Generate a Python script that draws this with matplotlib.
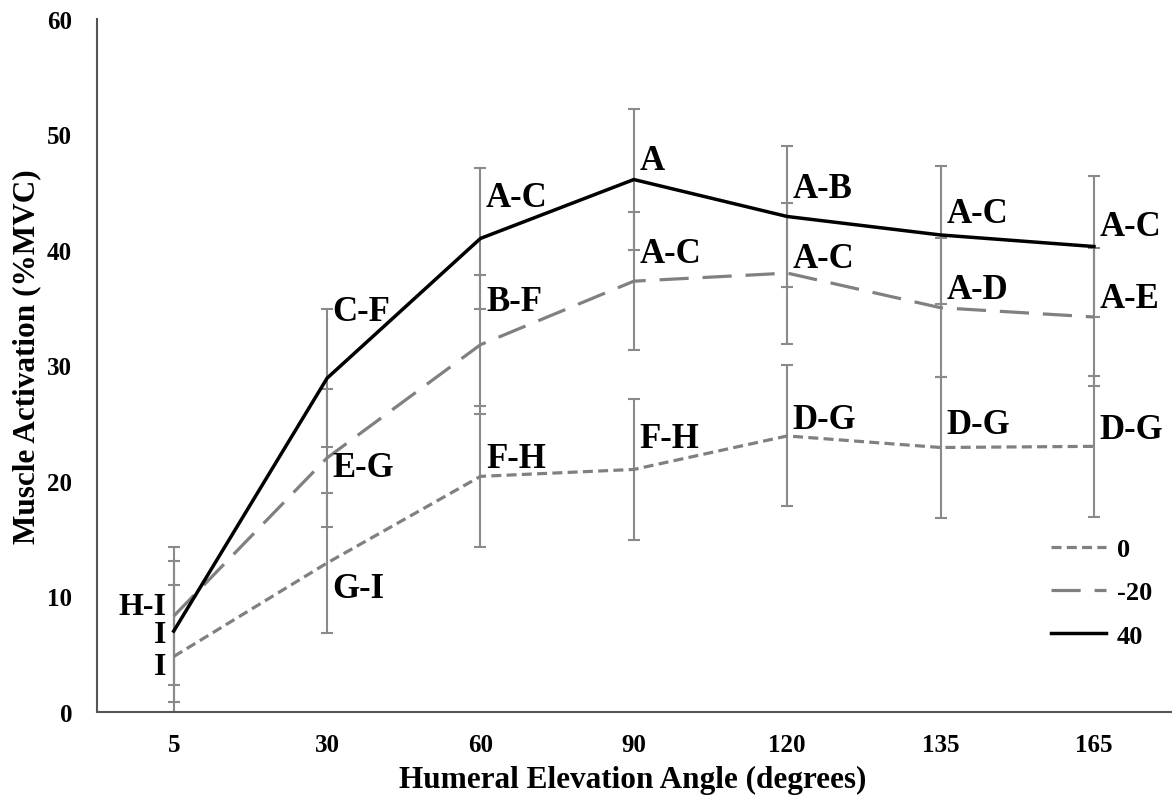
import numpy as np
import matplotlib
matplotlib.use("Agg")
import matplotlib.pyplot as plt

plt.rcParams['font.family'] = ['Liberation Serif', 'DejaVu Serif']
plt.rcParams['font.weight'] = 'bold'
plt.rcParams['lines.scale_dashes'] = False

# Humeral elevation angles (categorical x axis)
angles = ['5', '30', '60', '90', '120', '135', '165']

# Mean activation (%MVC) for each series
act_0 = [4.8, 12.9, 20.4, 21.0, 23.9, 22.9, 23.0]
act_m20 = [8.3, 22.0, 31.8, 37.3, 38.0, 35.0, 34.2]
act_40 = [7.0, 28.9, 41.0, 46.1, 42.9, 41.3, 40.3]

# Error bar half-widths
err_0 = [6.2, 6.1, 6.1, 6.1, 6.1, 6.1, 6.1]
err_m20 = [6.0, 6.0, 6.0, 6.0, 6.1, 6.0, 6.0]
err_40 = [6.1, 6.0, 6.1, 6.1, 6.1, 6.0, 6.1]

# Significance letters
lab_0 = ['I', 'G-I', 'F-H', 'F-H', 'D-G', 'D-G', 'D-G']
lab_m20 = ['H-I', 'E-G', 'B-F', 'A-C', 'A-C', 'A-D', 'A-E']
lab_40 = ['I', 'C-F', 'A-C', 'A', 'A-B', 'A-C', 'A-C']

# vertical offsets of the letters from the means (data units)
dy_0 = [-0.6, -2.0, 1.8, 2.9, 1.7, 2.2, 1.7]
dy_m20 = [1.05, -0.6, 4.0, 2.6, 1.5, 1.8, 1.8]
dy_40 = [-0.05, 6.0, 3.8, 1.9, 2.7, 2.1, 2.0]

x = np.arange(len(angles))

fig = plt.figure(figsize=(11.73, 8.03), dpi=100)
ax = fig.add_axes([0.0827, 0.1121, 0.9153, 0.863])

ecol = '#8a8a8a'
for vals, errs in [(act_0, err_0), (act_m20, err_m20), (act_40, err_40)]:
    ax.errorbar(x, vals, yerr=errs, fmt='none', ecolor=ecol, elinewidth=1.5,
                capsize=4.5, capthick=1.5, zorder=1)

ax.plot(x, act_0, color='#808080', lw=2.3, dashes=(7.2, 3.8), label='0', zorder=3)
ax.plot(x, act_m20, color='#808080', lw=2.3, dashes=(21, 10), label='-20', zorder=3)
ax.plot(x, act_40, color='black', lw=2.5, label='40', zorder=4)

# letters
for labs, vals, dys in [(lab_0, act_0, dy_0), (lab_m20, act_m20, dy_m20), (lab_40, act_40, dy_40)]:
    for i in range(len(x)):
        if i == 0:
            ax.annotate(labs[i], (x[i], vals[i] + dys[i]), xytext=(-5, -2),
                        textcoords='offset points', ha='right', va='center',
                        fontsize=23, fontweight='bold')
        else:
            ax.annotate(labs[i], (x[i], vals[i] + dys[i]), xytext=(4, -2),
                        textcoords='offset points', ha='left', va='center',
                        fontsize=25, fontweight='bold')

ax.set_xlim(-0.5, 6.5)
ax.set_ylim(0, 60)
ax.set_yticks(range(0, 61, 10))
ax.set_xticks(x)
ax.set_xticklabels(angles)
ax.tick_params(axis='both', length=0, labelsize=18)
ax.tick_params(axis='x', pad=15)
ax.tick_params(axis='y', pad=18)

for s in ['top', 'right']:
    ax.spines[s].set_visible(False)
for s in ['left', 'bottom']:
    ax.spines[s].set_color('#555555')
    ax.spines[s].set_linewidth(1.5)

ax.set_xlabel('Humeral Elevation Angle (degrees)', fontsize=22.5, fontweight='bold')
ax.set_ylabel('Muscle Activation (%MVC)', fontsize=22.5, fontweight='bold')
ax.xaxis.set_label_coords(0.499, -0.077)
ax.yaxis.set_label_coords(-0.052, 0.514)

leg = ax.legend(loc='lower right', bbox_to_anchor=(1.005, 0.0585), frameon=False,
                fontsize=19, handlelength=2.1, handletextpad=0.4, labelspacing=0.75)

plt.savefig('out.png', dpi=100)
